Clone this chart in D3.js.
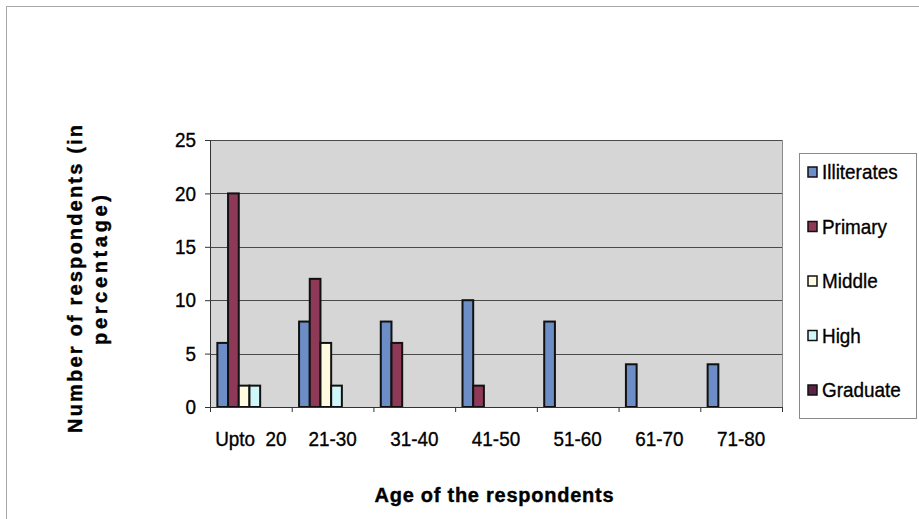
<!DOCTYPE html>
<html>
<head>
<meta charset="utf-8">
<script src="https://cdn.jsdelivr.net/npm/d3@7"></script>
<style>
  html, body { margin: 0; padding: 0; background: #fff; }
  svg { display: block; }
  .narrow { font-family: "Liberation Sans", Arial, sans-serif; stroke: #000; stroke-width: 0.35px; }
  .bold { font-family: "Liberation Sans", Arial, sans-serif; font-weight: bold; stroke: #000; stroke-width: 0.4px; }
</style>
</head>
<body>
<svg id="chart" width="919" height="519"></svg>
<script>
// Age groups of the respondents
const categories = ["Upto  20", "21-30", "31-40", "41-50", "51-60", "61-70", "71-80"];
// Education level series (percentage of respondents)
const seriesNames = ["Illiterates", "Primary", "Middle", "High", "Graduate"];
const illiterates = [6, 8, 8, 10, 8, 4, 4];
const primary     = [20, 12, 6, 2, 0, 0, 0];
const middle      = [2, 6, 0, 0, 0, 0, 0];
const high        = [2, 2, 0, 0, 0, 0, 0];
const graduate    = [0, 0, 0, 0, 0, 0, 0];
const yTicks = [0, 5, 10, 15, 20, 25];
const colors = ["#6c8dc6", "#8e3957", "#fffbe0", "#cff6f9", "#5b2447"];

const seriesValues = [illiterates, primary, middle, high, graduate];

// horizontal squeeze used for the condensed labels
const SQ = 0.9;
const LABEL_SIZE = 21;

const svg = d3.select("#chart");

// outer frame
svg.append("rect")
  .attr("x", 6.5).attr("y", 6.5).attr("width", 940).attr("height", 530)
  .attr("fill", "none").attr("stroke", "#a8a8a8").attr("stroke-width", 1);

const plot = { left: 210, right: 782, top: 140, bottom: 407 };

const x = d3.scaleBand()
  .domain(categories)
  .range([plot.left, plot.right])
  .padding(0);

const y = d3.scaleLinear()
  .domain([0, 25])
  .range([plot.bottom, plot.top]);

// bars sit in the left part of each category slot
const inner = d3.scaleBand()
  .domain(seriesNames)
  .range([x.bandwidth() * 0.09, x.bandwidth() * 0.09 + 5 * 10.7]);

// plot background
svg.append("rect")
  .attr("x", plot.left).attr("y", plot.top)
  .attr("width", plot.right - plot.left).attr("height", plot.bottom - plot.top)
  .attr("fill", "#d6d6d6");

// horizontal gridlines
svg.append("g")
  .selectAll("line")
  .data(yTicks.filter(d => d > 0))
  .join("line")
  .attr("x1", plot.left).attr("x2", plot.right)
  .attr("y1", d => Math.round(y(d)) + 0.5).attr("y2", d => Math.round(y(d)) + 0.5)
  .attr("stroke", "#4a4a4a").attr("stroke-width", 1);

// plot border (right side)
svg.append("line")
  .attr("x1", plot.right + 0.5).attr("x2", plot.right + 0.5)
  .attr("y1", plot.top).attr("y2", plot.bottom)
  .attr("stroke", "#8a8a8a");

// bars
const groups = svg.append("g")
  .selectAll("g")
  .data(seriesValues)
  .join("g")
  .attr("fill", (d, i) => colors[i]);

groups.selectAll("rect")
  .data((vals, si) => vals.map((v, ci) => ({ v, ci, si })).filter(d => d.v > 0))
  .join("rect")
  .attr("x", d => x(categories[d.ci]) + inner(seriesNames[d.si]))
  .attr("width", inner.bandwidth())
  .attr("y", d => y(d.v))
  .attr("height", d => y(0) - y(d.v))
  .attr("stroke", "#111")
  .attr("stroke-width", 2);

// y axis
const yAxis = svg.append("g")
  .attr("transform", `translate(${plot.left},0)`)
  .call(d3.axisLeft(y).tickValues(yTicks).tickSize(5).tickPadding(10));
yAxis.select(".domain").attr("stroke", "#333");
yAxis.selectAll(".tick line").attr("stroke", "#333");
yAxis.selectAll("text")
  .attr("class", "narrow")
  .attr("font-size", LABEL_SIZE).attr("fill", "#000")
  .attr("x", -14 / SQ)
  .attr("transform", `scale(${SQ},1)`);

// x axis
const xAxis = svg.append("g")
  .attr("transform", `translate(0,${plot.bottom})`)
  .call(d3.axisBottom(x).tickSize(0).tickPadding(24));
xAxis.select(".domain").attr("stroke", "#333");
xAxis.selectAll("text")
  .attr("class", "narrow")
  .attr("font-size", LABEL_SIZE).attr("fill", "#000")
  .attr("transform", `scale(${SQ},1)`)
  .style("white-space", "pre");
// category boundary ticks
svg.append("g")
  .selectAll("line")
  .data(categories.concat(["end"]))
  .join("line")
  .attr("x1", (d, i) => plot.left + i * x.bandwidth() + 0.5)
  .attr("x2", (d, i) => plot.left + i * x.bandwidth() + 0.5)
  .attr("y1", plot.bottom).attr("y2", plot.bottom + 5)
  .attr("stroke", "#333");

// axis titles
svg.append("text")
  .attr("class", "bold")
  .attr("x", 494).attr("y", 502)
  .attr("text-anchor", "middle")
  .attr("font-size", 20)
  .attr("textLength", 239).attr("lengthAdjust", "spacing")
  .text("Age of the respondents");

const yTitle = svg.append("g")
  .attr("transform", "translate(0,274) rotate(-90)");
yTitle.append("text")
  .attr("class", "bold")
  .attr("x", -5).attr("y", 82)
  .attr("text-anchor", "middle")
  .attr("font-size", 20)
  .attr("textLength", 308).attr("lengthAdjust", "spacing")
  .text("Number of respondents (in");
yTitle.append("text")
  .attr("class", "bold")
  .attr("x", 4).attr("y", 107)
  .attr("text-anchor", "middle")
  .attr("font-size", 20)
  .attr("textLength", 150).attr("lengthAdjust", "spacing")
  .text("percentage)");

// legend
const legend = svg.append("g");
legend.append("rect")
  .attr("x", 799.5).attr("y", 153.5).attr("width", 117).attr("height", 265)
  .attr("fill", "#fff").attr("stroke", "#8a8a8a");
const legendY = d3.scalePoint().domain(seriesNames).range([172, 390]);
const items = legend.selectAll("g.item")
  .data(seriesNames)
  .join("g")
  .attr("class", "item")
  .attr("transform", d => `translate(0,${legendY(d)})`);
items.append("rect")
  .attr("x", 808).attr("y", -5).attr("width", 9).attr("height", 10)
  .attr("fill", (d, i) => colors[i])
  .attr("stroke", "#111").attr("stroke-width", 1.5);
items.append("text")
  .attr("class", "narrow")
  .attr("x", 822 / SQ).attr("y", 7)
  .attr("font-size", LABEL_SIZE)
  .attr("transform", `scale(${SQ},1)`)
  .text(d => d);
</script>
</body>
</html>
